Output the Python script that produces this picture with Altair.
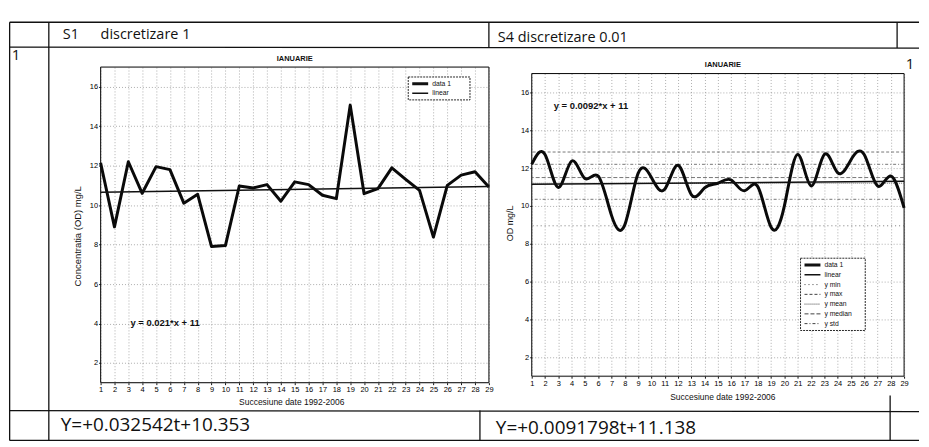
import altair as alt
import pandas as pd

# ---------------- data ----------------
x_vals = list(range(1, 30))
s1_values = [12.15, 8.9, 12.2, 10.6, 11.95, 11.8, 10.1, 10.55, 7.9, 7.95,
             10.97, 10.87, 11.04, 10.2, 11.18, 11.04, 10.5, 10.33, 15.07, 10.58,
             10.84, 11.89, 11.31, 10.75, 8.38, 11.0, 11.52, 11.69, 10.92]
s4_values = [12.2, 12.72, 10.98, 12.37, 11.45, 11.58, 9.5, 9.0, 11.72, 11.5,
             10.88, 12.15, 10.6, 10.95, 11.2, 11.37, 10.8, 11.02, 8.87, 10.0,
             12.72, 11.06, 12.72, 11.76, 12.43, 12.72, 11.06, 11.58, 9.9]
linear_x = [1, 29]
s1_linear = [10.65, 10.95]
s4_linear = [11.15, 11.3]
y_ticks = [2, 4, 6, 8, 10, 12, 14, 16]
stat_names = ["y min", "y max", "y mean", "y median", "y std", "y std"]
stat_values = [8.95, 12.85, 11.2, 11.5, 10.35, 12.2]

left_series = ["data 1", "linear"]
right_series = ["data 1", "linear", "y min", "y max", "y mean", "y median", "y std"]

header_s1 = "S1"
header_left = "discretizare 1"
header_right = "S4 discretizare 0.01"
row_label = "1"
footer_left = "Y=+0.032542t+10.353"
footer_right = "Y=+0.0091798t+11.138"
panel_title = "IANUARIE"
x_title = "Succesiune date 1992-2006"
left_y_title = "Concentratia (OD) mg/L"
right_y_title = "OD mg/L"
left_eq = "y = 0.021*x + 11"
right_eq = "y = 0.0092*x + 11"

STYLE = {
    "data 1": (3.0, [1, 0]),
    "linear": (1.5, [1, 0]),
    "y min": (0.8, [1, 3]),
    "y max": (0.8, [3, 2]),
    "y mean": (0.8, [1, 1]),
    "y median": (0.8, [4, 2]),
    "y std": (0.8, [3, 2, 1, 2]),
}

dummy = pd.DataFrame({"a": [0]})
SMALL = "Liberation Sans"
BIG = "Open Sans"

# page position of each panel's plot origin
LX0, LY0, LW, LH = 100, 65, 390, 317
RX0, RW, RH = 533, 374, 304
RY0 = LY0 + (LH - RH) / 2


def rule(ox, oy, x1, y1, x2, y2, w=1.3, color="#111", dash=None):
    kw = dict(color=color, strokeWidth=w)
    if dash is not None:
        kw["strokeDash"] = dash
    return alt.Chart(dummy).mark_rule(**kw).encode(
        x=alt.value(x1 - ox), y=alt.value(y1 - oy), x2=alt.value(x2 - ox), y2=alt.value(y2 - oy))


def text(ox, oy, t, x, y, size, font=BIG, align="left", angle=0, weight="normal"):
    return alt.Chart(dummy).mark_text(
        text=t, fontSize=size, font=font, align=align, baseline="middle",
        angle=angle, fontWeight=weight, color="#111").encode(
        x=alt.value(x - ox), y=alt.value(y - oy))


def legend(ox, oy, series, x1, y1, x2, row_h):
    n = len(series)
    parts = [alt.Chart(dummy).mark_rect(fill="white", stroke="#111", strokeWidth=0.9,
                                        strokeDash=[2, 1]).encode(
        x=alt.value(x1 - ox), y=alt.value(y1 - oy), x2=alt.value(x2 - ox),
        y2=alt.value(y1 + 4 + n * row_h - oy))]
    for i, s in enumerate(series):
        w, d = STYLE[s]
        yy = y1 + 2 + row_h * (i + 0.5)
        parts.append(rule(ox, oy, x1 + 4, yy, x1 + 20, yy, w=w, dash=d))
        parts.append(text(ox, oy, s, x1 + 24, yy, 6.8, font=SMALL))
    return parts


def table_layers(ox, oy):
    L, R = 8.65, 922
    return [
        rule(ox, oy, L, 20, R, 20), rule(ox, oy, L, 45, R, 46),
        rule(ox, oy, L, 410, R, 411), rule(ox, oy, L, 440, R, 440),
        rule(ox, oy, L, 20, L, 440), rule(ox, oy, 48, 20, 48, 440),
        rule(ox, oy, 490, 20, 490, 46), rule(ox, oy, 481, 410, 481, 440),
        rule(ox, oy, 900, 20, 900, 46), rule(ox, oy, 893, 395, 893, 440),
        text(ox, oy, header_s1, 62, 33, 14.5), text(ox, oy, header_left, 100, 33, 14.5),
        text(ox, oy, header_right, 499, 36, 14.5),
        text(ox, oy, row_label, 15, 53, 15, align="center"),
        text(ox, oy, footer_left, 60, 425, 19), text(ox, oy, footer_right, 497, 428, 19),
    ]


def panel(values, lin_y, x0, y0, w, h, interp, eq, eqx, eqy, series, legpos, extra, stats=None):
    xs = alt.Scale(domain=[1, 29], nice=False, zero=False)
    ys = alt.Scale(domain=[1, 17], nice=False, zero=False)
    ax_common = dict(grid=True, gridColor="#8a8a8a", gridDash=[1, 2], gridWidth=0.7,
                     domain=False, labelFontSize=7.5, labelFont=SMALL, labelColor="#000",
                     tickSize=2, tickColor="#111", labelPadding=1, title=None)
    x_axis = alt.Axis(values=x_vals, labelOverlap=False, labelFlush=False, **ax_common)
    y_axis = alt.Axis(values=y_ticks, **ax_common)

    df = pd.DataFrame({"x": x_vals, "y": values})
    ldf = pd.DataFrame({"x": linear_x, "y": lin_y})
    w1, _ = STYLE["data 1"]
    line = alt.Chart(df).mark_line(
        color="#0a0a0a", interpolate=interp, strokeJoin="round", strokeWidth=w1).encode(
        x=alt.X("x:Q", scale=xs, axis=x_axis), y=alt.Y("y:Q", scale=ys, axis=y_axis))
    wl, _ = STYLE["linear"]
    lin = alt.Chart(ldf).mark_line(color="#111", strokeWidth=wl).encode(
        x=alt.X("x:Q", scale=xs, axis=x_axis), y=alt.Y("y:Q", scale=ys, axis=y_axis))
    eq_df = pd.DataFrame({"ex": [eqx], "ey": [eqy], "t": [eq]})
    eqt = alt.Chart(eq_df).mark_text(fontSize=9.5, font=SMALL, fontWeight="bold",
                                     align="left", baseline="middle", color="#111").encode(
        x=alt.X("ex:Q", scale=xs, axis=x_axis), y=alt.Y("ey:Q", scale=ys, axis=y_axis), text="t:N")
    frame = alt.Chart(dummy).mark_rect(fillOpacity=0, stroke="#111", strokeWidth=1).encode(
        x=alt.value(0), y=alt.value(0), x2=alt.value(w), y2=alt.value(h))
    layers = [frame]
    if stats is not None:
        for name, v in zip(*stats):
            sw, sd = STYLE[name]
            sdf = pd.DataFrame({"v": [v]})
            layers.append(alt.Chart(sdf).mark_rule(color="#555", strokeWidth=sw, strokeDash=sd).encode(
                y=alt.Y("v:Q", scale=ys, axis=y_axis)))
    layers += [line, lin, eqt]
    layers += legend(x0, y0, series, *legpos)
    layers += extra
    return alt.layer(*layers).properties(width=w, height=h)


left_extra = table_layers(LX0, LY0) + [
    text(LX0, LY0, panel_title, 295, 57, 7.5, font=SMALL, align="center", weight="bold"),
    text(LX0, LY0, x_title, 292, 401, 8.5, font=SMALL, align="center"),
    text(LX0, LY0, left_y_title, 77, 235, 9.5, font=SMALL, align="center", angle=270),
]
right_extra = [
    text(RX0, RY0, panel_title, 725, 63, 7.5, font=SMALL, align="center", weight="bold"),
    text(RX0, RY0, x_title, 725, 396, 8.5, font=SMALL, align="center"),
    text(RX0, RY0, right_y_title, 511, 222, 9, font=SMALL, align="center", angle=270),
    text(RX0, RY0, row_label, 913, 62, 15, align="center"),
]

left = panel(s1_values, s1_linear, LX0, LY0, LW, LH, "linear", left_eq, 3.15, 4.0,
             left_series, (409, 75, 471, 9.5), left_extra)
right = panel(s4_values, s4_linear, RX0, RY0, RW, RH, "natural", right_eq, 2.65, 15.3,
              right_series, (803, 257, 868, 9.8), right_extra, stats=(stat_names, stat_values))

chart = alt.hconcat(left, right, spacing=RX0 - (LX0 + LW)).properties(
    bounds="flush", center=True,
    autosize=alt.AutoSizeParams(type="pad"),
    padding={"left": 0, "top": 57 - 45.65, "right": 0, "bottom": 0},
).configure_view(stroke=None).configure(background="white")

chart.save("out.html", embed_options={"renderer": "svg", "actions": False})
